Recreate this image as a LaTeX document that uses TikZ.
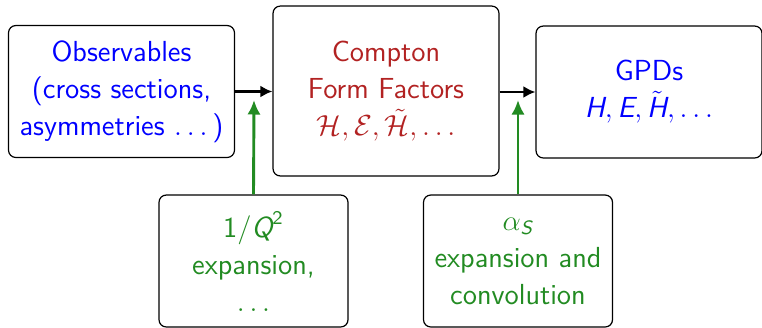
\documentclass[tikz,border=0pt]{standalone}
\usepackage{amsmath}
\usetikzlibrary{arrows.meta,positioning}
\definecolor{obsblue}{HTML}{0000FF}
\definecolor{cffred}{HTML}{B22222}
\definecolor{expgreen}{HTML}{228B22}
\newcommand{\sfv}[1]{\text{\sffamily\itshape #1}}
\newcommand{\sfn}[1]{\text{\sffamily #1}}
\tikzset{
  stagebox/.style={draw=black, line width=0.5pt, rounded corners=3pt, align=center,
                   inner sep=0pt, font=\sffamily\fontsize{12}{15.3}\selectfont},
  topbox/.style={stagebox, minimum width=93.5pt, minimum height=54.6pt},
  midbox/.style={stagebox, minimum width=93.5pt, minimum height=70.3pt},
  lowbox/.style={stagebox, minimum width=78.2pt, minimum height=54.6pt, text=expgreen},
  flow/.style={-{Latex[length=5pt,width=5pt]}, line width=1pt, color=black},
  gflow/.style={-{Latex[length=6pt,width=5.5pt]}, line width=1.2pt, color=expgreen}}
\begin{document}
\begin{tikzpicture}[x=0.4138pt, y=-0.4138pt]
  \useasboundingbox (0,0) rectangle (762,327);
  \node[topbox, text=obsblue] (obs) at (121.5,91.5)
    {Observables\\(cross sections,\\asymmetries $\ldots$\,)};
  \node[midbox, text=cffred] (cff) at (386,91)
    {Compton\\Form Factors\\$\mathcal{H},\mathcal{E},\tilde{\mathcal{H}},\ldots$};
  \node[topbox, text=obsblue] (gpd) at (649,92)
    {GPDs\\$\sfv{H},\sfv{E},\tilde{\sfv{H}},\ldots$};
  \node[lowbox] (pow) at (253.5,261)
    {$\sfn{1}/\sfv{Q}^{\sfn{2}}$\\expansion,\\$\ldots$};
  \node[lowbox] (pert) at (518,261)
    {$\alpha_{\sfv{S}}$\\expansion and\\convolution};
  \coordinate (powtip) at (254,100);
  \coordinate (perttip) at (518,100);
  \draw[flow] (obs.east) -- (cff.west |- obs.east);
  \draw[flow] (cff.east |- gpd.west) -- (gpd.west);
  \draw[gflow] (pow.north) -- (powtip);
  \draw[gflow] (pert.north) -- (perttip);
\end{tikzpicture}
\end{document}
